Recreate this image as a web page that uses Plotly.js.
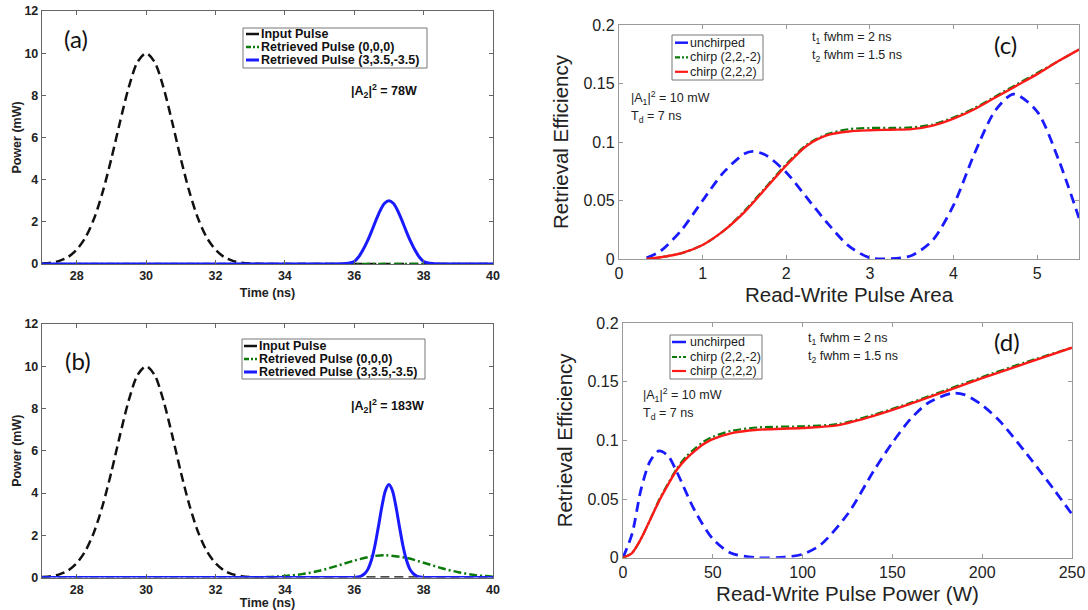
<!DOCTYPE html>
<html><head><meta charset="utf-8">
<script src="https://cdn.plot.ly/plotly-3.0.1.min.js"></script>
<style>html,body{margin:0;padding:0;background:#fff}#chart{width:1088px;height:610px}</style>
</head><body><div id="chart"></div>
<script>
// ---------- Panel (a) & (b): input pulse ----------
const timeInput = [27,27.25,27.5,27.75,28,28.25,28.5,28.75,29,29.25,29.5,29.75,30,30.25,30.5,30.75,31,31.25,31.5,31.75,32,32.25,32.5,32.75,33,33.5,34,35,36,37,38,39,40];
const powerInput = [0.02,0.06,0.15,0.33,0.68,1.25,2.15,3.42,5.0,6.75,8.38,9.57,10.0,9.57,8.38,6.75,5.0,3.42,2.15,1.25,0.68,0.33,0.15,0.06,0.02,0,0,0,0,0,0,0,0];

// ---------- Panel (a): retrieved pulses, |A2|^2 = 78 W ----------
const timeGreenA = [27,30,33,36,37,38,40];
const powerGreenA = [0,0,0,0,0,0,0];
const timeBlueA = [27,30,33,35,35.75,36,36.125,36.25,36.375,36.5,36.625,36.75,36.875,37,37.125,37.25,37.375,37.5,37.625,37.75,37.875,38,38.25,39,40];
const powerBlueA = [0,0,0,0,0.02,0.12,0.33,0.66,1.07,1.55,2.07,2.54,2.88,3.0,2.88,2.54,2.07,1.55,1.07,0.66,0.33,0.12,0.02,0,0];

// ---------- Panel (b): retrieved pulses, |A2|^2 = 183 W ----------
const timeGreenB = [27,30,33,33.5,34,34.5,35,35.5,36,36.5,36.9,37.5,38,38.5,39,39.5,40];
const powerGreenB = [0,0,0.01,0.02,0.07,0.16,0.32,0.55,0.80,1.00,1.05,0.93,0.70,0.45,0.25,0.11,0.04];
const timeBlueB = [27,30,33,35,35.9,36,36.1,36.2,36.3,36.4,36.5,36.6,36.7,36.8,36.9,37,37.1,37.2,37.3,37.4,37.5,37.6,37.7,37.8,37.9,38,38.1,39,40];
const powerBlueB = [0,0,0,0,0,0,0.02,0.07,0.18,0.41,0.85,1.54,2.44,3.38,4.12,4.4,4.12,3.38,2.44,1.54,0.85,0.41,0.18,0.07,0.02,0,0,0,0];

// ---------- Panel (c): efficiency vs pulse area ----------
const areaBlue = [0.33,0.5,0.75,1.0,1.25,1.5,1.6,1.75,2.0,2.25,2.5,2.75,3.0,3.25,3.5,3.75,4.0,4.25,4.5,4.72,5.0,5.25,5.5];
const effBlueC = [0.001,0.007,0.025,0.050,0.074,0.090,0.092,0.089,0.074,0.052,0.030,0.011,0.001,0.0003,0.003,0.016,0.046,0.090,0.127,0.141,0.126,0.086,0.035];
const areaChirp = [0.33,0.5,0.75,1.0,1.25,1.5,1.75,2.0,2.25,2.5,2.75,3.0,3.25,3.5,3.75,4.0,4.25,4.5,4.75,5.0,5.25,5.5];
const effGreenC = [0,0.0015,0.005,0.012,0.024,0.041,0.061,0.081,0.098,0.107,0.111,0.112,0.112,0.1125,0.115,0.121,0.129,0.139,0.149,0.159,0.169,0.179];
const effRedC   = [0,0.0015,0.005,0.012,0.024,0.040,0.060,0.080,0.097,0.106,0.109,0.110,0.1105,0.111,0.114,0.120,0.128,0.138,0.148,0.158,0.169,0.179];

// ---------- Panel (d): efficiency vs pulse power ----------
const powBlue = [0,5,10,15,20,25,30,40,50,60,75,90,100,110,125,140,150,160,170,183,190,200,210,225,240,250];
const effBlueD = [0,0.02,0.058,0.082,0.091,0.087,0.073,0.040,0.016,0.004,0,0.0005,0.003,0.011,0.037,0.075,0.098,0.118,0.132,0.140,0.139,0.130,0.116,0.088,0.058,0.037];
const powChirp = [0,5,10,15,20,25,30,35,40,45,50,60,75,100,120,140,160,180,200,225,250];
const effGreenD = [0,0.004,0.016,0.032,0.049,0.063,0.076,0.086,0.093,0.099,0.103,0.108,0.111,0.112,0.114,0.122,0.132,0.143,0.154,0.167,0.179];
const effRedD   = [0,0.004,0.016,0.032,0.048,0.062,0.075,0.084,0.091,0.097,0.101,0.106,0.109,0.1105,0.113,0.121,0.131,0.142,0.153,0.166,0.179];

// ---------- Text ----------
const legendAB = ["Input Pulse","Retrieved Pulse (0,0,0)","Retrieved Pulse (3,3.5,-3.5)"];
const legendCD = ["unchirped","chirp (2,2,-2)","chirp (2,2,2)"];

// ---------- Styles ----------
const BLACK = "#111111", GREEN = "#0a7a0a", BLUE = "#1a1aff", RED = "#ff1a1a";
const dashBlack = "9px,5px", dashGreen = "8px,3px,2px,3px", dashBlue = "10px,6px";
const W = 1088, H = 610;
const px = x => x / W, py = y => 1 - y / H;

function tr(x, y, xa, ya, color, width, dash, name) {
  return {x: x, y: y, xaxis: xa, yaxis: ya, type: "scatter", mode: "lines", name: name,
    showlegend: false, hoverinfo: "skip",
    line: {color: color, width: width, dash: dash, shape: "spline", smoothing: 0.8}};
}

const data = [
  tr(timeInput, powerInput, "x", "y", BLACK, 2.5, dashBlack, legendAB[0]),
  tr(timeGreenA, powerGreenA, "x", "y", GREEN, 2.5, dashGreen, legendAB[1]),
  tr(timeBlueA, powerBlueA, "x", "y", BLUE, 3, "solid", legendAB[2]),
  tr(timeInput, powerInput, "x2", "y2", BLACK, 2.5, dashBlack, legendAB[0]),
  tr(timeGreenB, powerGreenB, "x2", "y2", GREEN, 2.5, dashGreen, legendAB[1]),
  tr(timeBlueB, powerBlueB, "x2", "y2", BLUE, 3, "solid", legendAB[2]),
  tr(areaBlue, effBlueC, "x3", "y3", BLUE, 2.8, dashBlue, legendCD[0]),
  tr(areaChirp, effGreenC, "x3", "y3", GREEN, 2.2, dashGreen, legendCD[1]),
  tr(areaChirp, effRedC, "x3", "y3", RED, 2.4, "solid", legendCD[2]),
  tr(powBlue, effBlueD, "x4", "y4", BLUE, 2.8, dashBlue, legendCD[0]),
  tr(powChirp, effGreenD, "x4", "y4", GREEN, 2.2, dashGreen, legendCD[1]),
  tr(powChirp, effRedD, "x4", "y4", RED, 2.4, "solid", legendCD[2])
];

const boldFont = {family: "Liberation Sans, Arial, sans-serif", size: 12.5, color: "#222", weight: "bold"};
const regFont = {family: "Liberation Sans, Arial, sans-serif", size: 16, color: "#222"};

function axAB(dom, anchor, extra) {
  return Object.assign({domain: dom, anchor: anchor, showgrid: false, zeroline: false,
    showline: true, mirror: "ticks", linecolor: "#666", linewidth: 1.2,
    ticks: "inside", ticklen: 4, tickcolor: "#666", tickfont: boldFont}, extra);
}
function axCD(dom, anchor, extra) {
  return Object.assign({domain: dom, anchor: anchor, showgrid: false, zeroline: false,
    showline: true, mirror: "ticks", linecolor: "#9a9a9a", linewidth: 1.2,
    ticks: "inside", ticklen: 4, tickcolor: "#9a9a9a", tickfont: regFont}, extra);
}
const titleAB = (t, s) => ({text: t, standoff: s, font: {family: "Liberation Sans, Arial, sans-serif", size: 12.5, color: "#222", weight: "bold"}});
const titleCD = (t, s) => {
  const o = {text: t, font: {family: "Liberation Sans, Arial, sans-serif", size: 20.5, color: "#222"}};
  if (s !== undefined) o.standoff = s;
  return o;
};

const layout = {
  width: W, height: H, autosize: false,
  margin: {l: 0, r: 0, t: 0, b: 0},
  paper_bgcolor: "#fff", plot_bgcolor: "#fff",
  showlegend: false,
  xaxis: axAB([px(42), px(493)], "y", {range: [27, 40], tick0: 28, dtick: 2, title: titleAB("Time (ns)", 6)}),
  yaxis: axAB([py(264), py(11)], "x", {range: [0, 12], dtick: 2, title: titleAB("Power (mW)", 0)}),
  xaxis2: axAB([px(42), px(493)], "y2", {range: [27, 40], tick0: 28, dtick: 2, title: titleAB("Time (ns)", 2)}),
  yaxis2: axAB([py(577.5), py(324)], "x2", {range: [0, 12], dtick: 2, title: titleAB("Power (mW)", 0)}),
  xaxis3: axCD([px(619), px(1079)], "y3", {range: [0, 5.5], dtick: 1, title: titleCD("Read-Write Pulse Area", 6)}),
  yaxis3: axCD([py(259), py(25)], "x3", {range: [0, 0.2], dtick: 0.05, title: titleCD("Retrieval Efficiency")}),
  xaxis4: axCD([px(623), px(1072)], "y4", {range: [0, 250], dtick: 50, title: titleCD("Read-Write Pulse Power (W)", 6)}),
  yaxis4: axCD([py(557.7), py(323)], "x4", {range: [0, 0.2], dtick: 0.05, title: titleCD("Retrieval Efficiency")}),
  shapes: [],
  annotations: []
};

function addText(text, x, y, font, xanchor) {
  layout.annotations.push({text: text, x: px(x), y: py(y), xref: "paper", yref: "paper",
    xanchor: xanchor || "center", yanchor: "middle", showarrow: false, font: font});
}
function addLegend(box, rows, sx0, sx1, tx, styles, labels, font) {
  layout.shapes.push({type: "rect", xref: "paper", yref: "paper", x0: px(box[0]), x1: px(box[1]),
    y0: py(box[3]), y1: py(box[2]), line: {color: "#777", width: 1}, fillcolor: "#fff", layer: "above"});
  rows.forEach((ry, i) => {
    layout.shapes.push({type: "line", xref: "paper", yref: "paper", x0: px(sx0), x1: px(sx1),
      y0: py(ry), y1: py(ry), line: {color: styles[i][0], width: styles[i][1], dash: styles[i][2]}, layer: "above"});
    addText(labels[i], tx, ry, font, "left");
  });
}

const annBold = {family: "Liberation Sans, Arial, sans-serif", size: 12.5, color: "#111", weight: "bold"};
const annReg = {family: "Liberation Sans, Arial, sans-serif", size: 12.5, color: "#222"};
const panelFont = {family: "Lato, Liberation Sans, sans-serif", size: 24, color: "#111"};

// Panel (a)
addText("(a)", 76, 39, panelFont);
addText("|A<sub>2</sub>|<sup>2</sup> = 78W", 384, 91, annBold);
addLegend([243, 427, 28, 68], [34, 47, 60], 246, 259, 259,
  [[BLACK, 2.5, "solid"], [GREEN, 2.5, "5px,2px,2px,2px"], [BLUE, 3, "solid"]], legendAB, annBold);
// Panel (b)
addText("(b)", 78, 360, panelFont);
addText("|A<sub>2</sub>|<sup>2</sup> = 183W", 387, 406, annBold);
addLegend([242, 425, 339, 379], [346, 359, 372], 244, 257, 257,
  [[BLACK, 2.5, "solid"], [GREEN, 2.5, "5px,2px,2px,2px"], [BLUE, 3, "solid"]], legendAB, annBold);
// Panel (c)
addText("(c)", 1005, 45, panelFont);
addText("t<sub>1</sub> fwhm = 2 ns", 810, 38, annReg, "left");
addText("t<sub>2</sub> fwhm = 1.5 ns", 810, 56, annReg, "left");
addText("|A<sub>1</sub>|<sup>2</sup> = 10 mW", 629, 98, annReg, "left");
addText("T<sub>d</sub> = 7 ns", 629, 117, annReg, "left");
addLegend([672, 763, 35, 80], [42.7, 57.4, 71.8], 675, 688, 688,
  [[BLUE, 2.5, "solid"], [GREEN, 2.2, "5px,2px,2px,2px"], [RED, 2.2, "solid"]], legendCD, annReg);
// Panel (d)
addText("(d)", 1007, 341, panelFont);
addText("t<sub>1</sub> fwhm = 2 ns", 806, 339, annReg, "left");
addText("t<sub>2</sub> fwhm = 1.5 ns", 806, 357, annReg, "left");
addText("|A<sub>1</sub>|<sup>2</sup> = 10 mW", 641, 395, annReg, "left");
addText("T<sub>d</sub> = 7 ns", 641, 414, annReg, "left");
addLegend([670, 762, 335, 379], [342, 357, 371], 672, 686, 688,
  [[BLUE, 2.5, "solid"], [GREEN, 2.2, "5px,2px,2px,2px"], [RED, 2.2, "solid"]], legendCD, annReg);

Plotly.newPlot("chart", data, layout, {displayModeBar: false, staticPlot: true});
</script></body></html>
